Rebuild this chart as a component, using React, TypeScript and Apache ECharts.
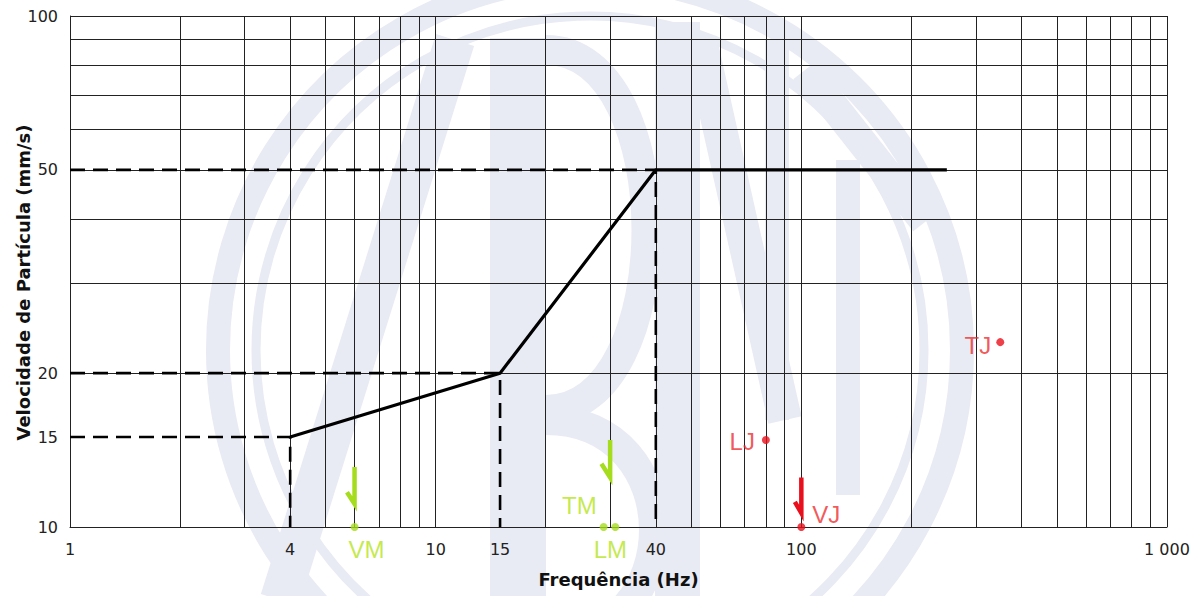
import React, { useEffect, useRef } from 'react';
import * as echarts from 'echarts';

// ---- axis values ----
const xLabelValues = [1, 4, 10, 15, 40, 100, 1000];
const yLabelValues = [10, 15, 20, 50, 100];
const xGridValues = [1, 2, 3, 4, 5, 6, 7, 8, 9, 10, 20, 30, 40, 50, 60, 70, 80, 90, 100, 200, 300, 400, 500, 600, 700, 800, 900, 1000];
const yGridValues = [10, 20, 30, 40, 50, 60, 70, 80, 90, 100];

// ---- limit curve (Hz, mm/s) ----
const limitCurve = [[4, 15], [15, 20], [40, 50], [250, 50]];
const guide15 = [[1, 15], [4, 15], [4, 10]];
const guide20 = [[1, 20], [15, 20], [15, 10]];
const guide50 = [[1, 50], [40, 50], [40, 10]];

// ---- measured points ----
const greenNames = ['VM', 'TM', 'LM'];
const greenFreq = [6, 28.8, 31];
const greenVel = [10, 10, 10];
const redNames = ['TJ', 'LJ', 'VJ'];
const redFreq = [350, 80, 100];
const redVel = [23, 14.8, 10];

// ---- arrows (Hz, mm/s) ----
const arrowVM = [[6, 13.1], [6, 11.1], [5.72, 11.7]];
const arrowLM = [[30, 14.8], [30, 12.5], [28.4, 13.3]];
const arrowVJ = [[100, 12.5], [100, 10.65], [96, 11.2]];

const labelLayout: Record<string, { position: string; offset: number[] }> = {
  VM: { position: 'bottom', offset: [12, 1] },
  TM: { position: 'left', offset: [2, -22] },
  LM: { position: 'bottom', offset: [-5, 1] },
  TJ: { position: 'left', offset: [0, 3] },
  LJ: { position: 'left', offset: [-2, 2] },
  VJ: { position: 'right', offset: [2, -13] },
};

const GREEN_PT = '#a6dc1e';
const GREEN_TXT = '#b6e41e';
const RED_PT = '#e8101c';
const RED_TXT = '#ee2e2e';
const WM = '#e8eaf4';
const FONT = '"DejaVu Sans", sans-serif';
const PT_FONT = '"Liberation Sans", Arial, sans-serif';

function pointData(names: string[], xs: number[], ys: number[], txtColor: string) {
  return names.map((n, i) => ({
    name: n,
    value: [xs[i], ys[i]],
    label: {
      show: true,
      formatter: n,
      position: labelLayout[n].position,
      offset: labelLayout[n].offset,
      color: txtColor,
      fontSize: 24,
      fontFamily: PT_FONT,
    },
  }));
}

function guideSeries(data: number[][]) {
  return {
    type: 'line',
    data,
    symbol: 'none',
    silent: true,
    z: 5,
    lineStyle: { color: '#000', width: 2.6, type: [15, 8] },
  };
}

function arrowSeries(data: number[][], color: string) {
  return {
    type: 'line',
    data,
    symbol: 'none',
    silent: true,
    z: 6,
    lineStyle: { color, width: 4.5, join: 'miter', cap: 'butt' },
  };
}

const watermark = [
  { type: 'circle', shape: { cx: 590, cy: 350, r: 372 }, style: { fill: 'none', stroke: WM, lineWidth: 24 } },
  { type: 'circle', shape: { cx: 590, cy: 350, r: 334 }, style: { fill: 'none', stroke: WM, lineWidth: 9 } },
  { type: 'rect', shape: { x: 490, y: 38, width: 56, height: 560 }, style: { fill: WM } },
  { type: 'bezierCurve', shape: { x1: 546, y1: 50, cpx1: 680, cpy1: 50, cpx2: 680, cpy2: 410, x2: 546, y2: 410 }, style: { fill: 'none', stroke: WM, lineWidth: 30 } },
  { type: 'bezierCurve', shape: { x1: 546, y1: 420, cpx1: 690, cpy1: 420, cpx2: 690, cpy2: 640, x2: 546, y2: 640 }, style: { fill: 'none', stroke: WM, lineWidth: 30 } },
  { type: 'polyline', shape: { points: [[280, 600], [455, 40]] }, style: { fill: 'none', stroke: WM, lineWidth: 40 } },
  { type: 'rect', shape: { x: 655, y: 22, width: 45, height: 576 }, style: { fill: WM } },
  { type: 'polyline', shape: { points: [[700, 40], [785, 420]] }, style: { fill: 'none', stroke: WM, lineWidth: 34 } },
  { type: 'rect', shape: { x: 765, y: 40, width: 24, height: 380 }, style: { fill: WM } },
  { type: 'rect', shape: { x: 836, y: 160, width: 24, height: 335 }, style: { fill: WM } },
  { type: 'polyline', shape: { points: [[805, 70], [925, 222]] }, style: { fill: 'none', stroke: WM, lineWidth: 30 } },
].map((e) => ({ ...e, z: -10, silent: true }));

export default function App() {
  const ref = useRef<HTMLDivElement>(null);
  useEffect(() => {
    if (!ref.current) return;
    const chart = echarts.init(ref.current, undefined, { renderer: 'svg' });
    chart.setOption({
      animation: false,
      backgroundColor: '#ffffff',
      graphic: watermark,
      grid: { left: 70, right: 36, top: 16, bottom: 69, containLabel: false, outerBoundsMode: 'none' },
      xAxis: {
        type: 'log',
        logBase: 10,
        min: 1,
        max: 1000,
        name: 'Frequência (Hz)',
        nameLocation: 'middle',
        nameGap: 43,
        nameMoveOverlap: false,
        nameTextStyle: { fontFamily: FONT, fontWeight: 'bold', fontSize: 18, color: '#111' },
        axisLine: { show: true, lineStyle: { color: '#222', width: 1 } },
        axisTick: { show: false, customValues: xGridValues },
        axisLabel: {
          customValues: xLabelValues,
          margin: 14,
          fontFamily: FONT,
          fontSize: 16,
          color: '#222',
          formatter: (v: number) => {
            const r = Math.round(v);
            return r === 1000 ? '1 000' : String(r);
          },
        },
        splitLine: { show: true, lineStyle: { color: '#222', width: 1 } },
        minorSplitLine: { show: false },
      },
      yAxis: {
        type: 'log',
        logBase: 10,
        min: 10,
        max: 100,
        name: 'Velocidade de Partícula (mm/s)',
        nameLocation: 'middle',
        nameGap: 38,
        nameMoveOverlap: false,
        nameTextStyle: { fontFamily: FONT, fontWeight: 'bold', fontSize: 18, color: '#111', padding: [0, 22, 0, 0] },
        axisLine: { show: true, lineStyle: { color: '#222', width: 1 } },
        axisTick: { show: false, customValues: yGridValues },
        axisLabel: {
          customValues: yLabelValues,
          margin: 12,
          fontFamily: FONT,
          fontSize: 16,
          color: '#222',
          formatter: (v: number) => String(Math.round(v)),
        },
        splitLine: { show: true, lineStyle: { color: '#222', width: 1 } },
      },
      series: [
        guideSeries(guide15),
        guideSeries(guide20),
        guideSeries(guide50),
        {
          type: 'line',
          data: limitCurve,
          symbol: 'none',
          silent: true,
          z: 7,
          lineStyle: { color: '#000', width: 3.2 },
        },
        arrowSeries(arrowVM, GREEN_PT),
        arrowSeries(arrowLM, GREEN_PT),
        arrowSeries(arrowVJ, RED_PT),
        {
          type: 'scatter',
          data: pointData(greenNames, greenFreq, greenVel, GREEN_TXT),
          symbol: 'circle',
          symbolSize: 8,
          clip: false,
          z: 8,
          itemStyle: { color: GREEN_PT },
        },
        {
          type: 'scatter',
          data: pointData(redNames, redFreq, redVel, RED_TXT),
          symbol: 'circle',
          symbolSize: 8,
          clip: false,
          z: 8,
          itemStyle: { color: RED_PT },
        },
      ],
    });
    return () => chart.dispose();
  }, []);
  return (
    <div
      ref={ref}
      style={{ position: 'absolute', left: 0, top: 0, width: 1203, height: 596, background: '#fff' }}
    />
  );
}
